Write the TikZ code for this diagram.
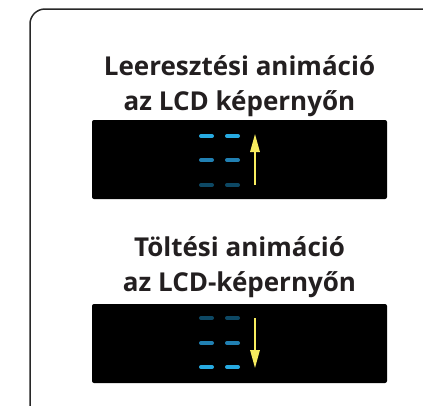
\documentclass[tikz,border=0pt]{standalone}
\usepackage{fontspec}
\setmainfont{Open Sans}
\usepackage{tikz}
\usetikzlibrary{arrows.meta}

\definecolor{cimszin}{RGB}{35,31,32}
\definecolor{keret}{RGB}{40,40,40}
\definecolor{vilagos}{RGB}{39,170,225}
\definecolor{kozep}{RGB}{33,128,178}
\definecolor{sotet}{RGB}{13,72,100}
\definecolor{sarga}{RGB}{247,236,94}

\tikzset{
  cim/.style={font=\fontsize{26}{35}\selectfont\bfseries, text=cimszin, align=center, anchor=base, inner sep=0pt},
  kijelzo/.style={fill=black, rounded corners=2pt},
  csik/.style={line width=4pt, line cap=round},
  nyil/.style={sarga, line width=1.5pt, -{Triangle[length=18pt, width=9.5pt]}}
}

\begin{document}
\begin{tikzpicture}[x=1pt, y=-1pt]
\useasboundingbox (0,0) rectangle (423,405);
\clip (0,0) rectangle (423,405);

% Keret - jobbra és lent kilóg a képből
\draw[keret, line width=1.5pt, rounded corners=15pt] (30,9) rectangle (450,430);

% Leeresztés - felső kijelző (base = második sor alapvonala)
\node[cim] (cimfent) at (239.5,110) {Leeresztési animáció\\az LCD képernyőn};
\fill[kijelzo] (92,120) rectangle (387,199);
\draw[csik, vilagos] (201,136) -- (212,136) (227,136) -- (238,136);
\draw[csik, kozep] (201,160) -- (212,160) (227,160) -- (238,160);
\draw[csik, sotet] (201,185) -- (212,185) (227,185) -- (238,185);
\coordinate (fentalja) at (255,185);
\coordinate (fentteto) at (255,134);
\draw[nyil] (fentalja) -- (fentteto);

% Töltés - alsó kijelző
\node[cim] (cimlent) at (239.5,291) {Töltési animáció\\az LCD-képernyőn};
\fill[kijelzo] (92,304) rectangle (387,383);
\draw[csik, sotet] (201,318) -- (212,318) (227,318) -- (238,318);
\draw[csik, kozep] (201,343) -- (212,343) (227,343) -- (238,343);
\draw[csik, vilagos] (201,367) -- (212,367) (227,367) -- (238,367);
\coordinate (lentteto) at (255,318);
\coordinate (lentalja) at (255,368);
\draw[nyil] (lentteto) -- (lentalja);

\end{tikzpicture}
\end{document}
